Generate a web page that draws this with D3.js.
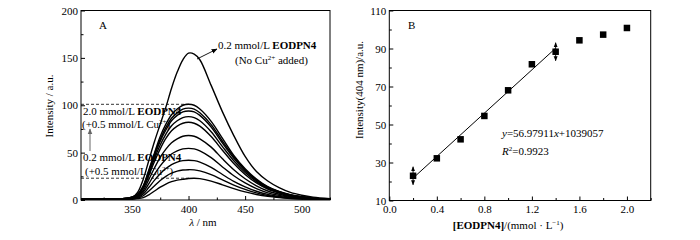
<!DOCTYPE html>
<html>
<head>
<meta charset="utf-8">
<script src="https://cdn.jsdelivr.net/npm/d3@7"></script>
<style>
    body { margin: 0; background: #ffffff; }
    svg text { font-family: 'Liberation Serif', 'Times New Roman', serif; fill: #000; }
</style>
</head>
<body>
<div id="graph"></div>
<script>

// ---- Panel A data: emission spectra ----
var wavelengths = [305, 340, 350, 355, 360, 365, 370, 375, 380, 385, 390, 395, 400, 405,
                   410, 420, 430, 440, 450, 460, 470, 480, 490, 500, 510, 525];

// 0.2 mmol/L EODPN4, no Cu2+
var specNoCu = [0.8, 1, 2.5, 8, 22, 42, 62, 80, 98, 118, 135, 148, 155, 154,
                148, 121, 93, 68, 46, 30, 20, 13, 8, 5, 3, 1.5];

// 0.2 ... 2.0 mmol/L EODPN4 with 0.5 mmol/L Cu2+
var specCu02 = [1, 1, 1, 1.4, 2.5, 5.5, 9.5, 13.5, 16.8, 19.3, 21, 21.8, 22.7, 23,
                22.6, 20, 16, 12, 8.5, 5.8, 3.8, 2.5, 1.6, 1.1, 0.9, 0.7];
var specCu04 = [1, 1, 1.1, 1.9, 4.5, 9.5, 15, 20.5, 25, 28.3, 30.4, 31.6, 32, 31.8,
                30.8, 26.8, 21.3, 15.8, 11.2, 7.5, 4.8, 3.1, 1.9, 1.2, 0.9, 0.7];
var specCu06 = [1, 1.1, 1.3, 2.5, 6.3, 13.4, 21, 27.7, 33.2, 37.4, 40, 41.6, 42, 41.6,
                40, 34.4, 26.9, 19.7, 13.9, 9.2, 5.9, 3.8, 2.3, 1.5, 1, 0.8];
var specCu08 = [1, 1.1, 1.7, 3.3, 8.2, 17.4, 27.3, 36, 43, 48.5, 51.8, 54, 54.5, 54,
                51.8, 44.7, 34.9, 25.6, 18, 12, 7.6, 4.9, 3, 1.9, 1.1, 0.8];
var specCu10 = [1, 1.1, 2, 4, 10, 21.8, 34, 45, 53.7, 60.5, 64.6, 67.3, 68, 67.3,
                64.6, 55.8, 43.5, 32, 22.4, 15, 9.5, 6.1, 3.7, 2.4, 1.4, 1];
var specCu12 = [1, 1.2, 2.5, 4.9, 12.3, 26, 41, 54, 65, 73, 78, 81, 82, 81,
                78, 67, 52.5, 38.5, 27, 18, 11.5, 7.4, 4.5, 2.9, 1.6, 1];
var specCu14 = [1, 1.2, 2.6, 5.3, 13.2, 28, 44, 58, 69.5, 78.3, 83.6, 87, 88, 87,
                83.6, 72, 56.3, 41.4, 29, 19.4, 12.3, 7.9, 4.8, 3.1, 1.8, 1];
var specCu16 = [1, 1.2, 3, 5.6, 14, 30, 47, 62, 74, 83.7, 89.3, 93, 94, 93,
                89.3, 77, 60, 44, 31, 20.7, 13.2, 8.5, 5.2, 3.3, 1.9, 1];
var specCu18 = [1, 1.2, 3, 6, 14.5, 31, 48.5, 64, 76.6, 86.3, 92, 96, 97, 96,
                92, 79.5, 62, 45.6, 32, 21.3, 13.6, 8.7, 5.3, 3.4, 2, 1];
var specCu20 = [1, 1.2, 3, 6, 15, 32, 50, 67, 80, 90, 96, 100, 101, 100,
                96, 83, 65, 47, 33, 22, 14, 9, 5.5, 3.5, 2, 1];

var xTicksA = [350, 400, 450, 500];
var yTicksA = [0, 50, 100, 150, 200];

// ---- Panel B data: intensity at 404 nm vs concentration ----
var concentrations = [0.2, 0.4, 0.6, 0.8, 1.0, 1.2, 1.4, 1.6, 1.8, 2.0];
var intensity404   = [23, 32.2, 42.2, 54.5, 68, 81.7, 88.3, 94.3, 97.3, 100.8];
var fitSlope     = 56.97911;
var fitIntercept = 10.39057;
var fitRange     = [0.2, 1.4];

var xTicksB = [0.0, 0.4, 0.8, 1.2, 1.6, 2.0];
var yTicksB = [10, 30, 50, 70, 90, 110];


function D3App ()
{
    var svg = d3.select ('#graph').append ('svg')
                .attr ('width', 700)
                .attr ('height', 240);

    var defs = svg.append ('defs');

    // arrow heads
    defs.append ('marker')
        .attr ('id', 'arrowBlack')
        .attr ('viewBox', '0 0 10 10')
        .attr ('refX', 9).attr ('refY', 5)
        .attr ('markerWidth', 6).attr ('markerHeight', 6)
        .attr ('markerUnits', 'userSpaceOnUse')
        .attr ('orient', 'auto-start-reverse')
        .append ('path')
        .attr ('d', 'M0,1 L10,5 L0,9 z')
        .attr ('fill', '#000');

    defs.append ('marker')
        .attr ('id', 'arrowGray')
        .attr ('viewBox', '0 0 10 10')
        .attr ('refX', 9).attr ('refY', 5)
        .attr ('markerWidth', 6).attr ('markerHeight', 6)
        .attr ('markerUnits', 'userSpaceOnUse')
        .attr ('orient', 'auto')
        .append ('path')
        .attr ('d', 'M0,1 L10,5 L0,9 z')
        .attr ('fill', '#666');

    defs.append ('marker')
        .attr ('id', 'arrowSmall')
        .attr ('viewBox', '0 0 10 10')
        .attr ('refX', 9).attr ('refY', 5)
        .attr ('markerWidth', 5).attr ('markerHeight', 5)
        .attr ('markerUnits', 'userSpaceOnUse')
        .attr ('orient', 'auto-start-reverse')
        .append ('path')
        .attr ('d', 'M0,1 L10,5 L0,9 z')
        .attr ('fill', '#000');

    //
    // Helper: inward ticks (major + minor) and labels
    //
    var DrawAxes = function (g, xScale, yScale, xTicks, yTicks, xMinor, yMinor, xFmt, yFmt)
    {
        var y0 = yScale.range()[0];

        g.append ('g')
         .attr ('transform', 'translate(0,' + y0 + ')')
         .call (d3.axisBottom (xScale).tickValues (xTicks).tickFormat (xFmt)
                  .tickSizeInner (-4).tickSizeOuter (0).tickPadding (5))
         .call (function (a) { a.select ('.domain').remove (); });

        g.append ('g')
         .attr ('transform', 'translate(0,' + y0 + ')')
         .call (d3.axisBottom (xScale).tickValues (xMinor).tickFormat ('')
                  .tickSizeInner (-2.5).tickSizeOuter (0))
         .call (function (a) { a.select ('.domain').remove (); });

        g.append ('g')
         .attr ('transform', 'translate(' + xScale.range()[0] + ',0)')
         .call (d3.axisLeft (yScale).tickValues (yTicks).tickFormat (yFmt)
                  .tickSizeInner (-4).tickSizeOuter (0).tickPadding (3))
         .call (function (a) { a.select ('.domain').remove (); });

        g.append ('g')
         .attr ('transform', 'translate(' + xScale.range()[0] + ',0)')
         .call (d3.axisLeft (yScale).tickValues (yMinor).tickFormat ('')
                  .tickSizeInner (-2.5).tickSizeOuter (0))
         .call (function (a) { a.select ('.domain').remove (); });

        g.selectAll ('.tick text')
         .attr ('font-size', '11px')
         .attr ('font-family', "'Liberation Serif', serif");
        g.selectAll ('.tick line').attr ('stroke', '#000');

        // frame
        g.append ('rect')
         .attr ('x', xScale.range()[0])
         .attr ('y', yScale.range()[1])
         .attr ('width',  xScale.range()[1] - xScale.range()[0])
         .attr ('height', yScale.range()[0] - yScale.range()[1])
         .attr ('fill', 'none')
         .attr ('stroke', '#000')
         .attr ('stroke-width', 1);
    };

    // ================= Panel A =================
    var xA = d3.scaleLinear ().domain ([305, 525]).range ([81, 330]);
    var yA = d3.scaleLinear ().domain ([0, 200]).range ([200, 10.5]);

    var gA = svg.append ('g');

    defs.append ('clipPath').attr ('id', 'clipA')
        .append ('rect')
        .attr ('x', xA.range()[0]).attr ('y', yA.range()[1])
        .attr ('width', xA.range()[1] - xA.range()[0])
        .attr ('height', yA.range()[0] - yA.range()[1]);

    // annotations that sit behind the curves
    var fs = '11px';

    gA.append ('line')
      .attr ('x1', xA(305)).attr ('x2', xA(402))
      .attr ('y1', yA(101)).attr ('y2', yA(101))
      .attr ('stroke', '#000').attr ('stroke-width', 0.8)
      .attr ('stroke-dasharray', '3,2');

    gA.append ('line')
      .attr ('x1', xA(305)).attr ('x2', xA(402))
      .attr ('y1', yA(23)).attr ('y2', yA(23))
      .attr ('stroke', '#000').attr ('stroke-width', 0.8)
      .attr ('stroke-dasharray', '3,2');

    var AddLabel = function (x, y, parts)
    {
        var t = gA.append ('text')
                  .attr ('x', x).attr ('y', y)
                  .attr ('font-size', fs);
        for (var i = 0; i < parts.length; i++)
        {
            var p = parts[i];
            var ts = t.append ('tspan').text (p.t);
            if (p.b)   ts.attr ('font-weight', 'bold');
            if (p.sup) ts.attr ('font-size', '7px').attr ('dy', -4);
            if (p.down) ts.attr ('dy', 4);
        }
    };

    AddLabel (83, 115, [ { t: '2.0 mmol/L ' }, { t: 'EODPN4', b: true } ]);
    AddLabel (82, 128, [ { t: '(+0.5 mmol/L Cu' }, { t: '2+', sup: true }, { t: ')', down: true } ]);
    AddLabel (83, 161, [ { t: '0.2 mmol/L ' }, { t: 'EODPN4', b: true } ]);
    AddLabel (85, 175, [ { t: '(+0.5 mmol/L Cu' }, { t: '2+', sup: true }, { t: ')', down: true } ]);

    // gray arrow
    gA.append ('line')
      .attr ('x1', 90).attr ('x2', 90)
      .attr ('y1', 151).attr ('y2', 129)
      .attr ('stroke', '#666').attr ('stroke-width', 1)
      .attr ('marker-end', 'url(#arrowGray)');

    // spectra
    var spectra = [ specCu02, specCu04, specCu06, specCu08, specCu10,
                    specCu12, specCu14, specCu16, specCu18, specCu20, specNoCu ];

    var line = d3.line ()
                 .x (function (d, i) { return xA (wavelengths[i]); })
                 .y (function (d) { return yA (d); })
                 .curve (d3.curveCatmullRom.alpha (0.5));

    gA.append ('g')
      .attr ('clip-path', 'url(#clipA)')
      .selectAll ('path')
      .data (spectra)
      .enter ()
      .append ('path')
      .attr ('d', line)
      .attr ('fill', 'none')
      .attr ('stroke', '#000')
      .attr ('stroke-width', 1.4);

    DrawAxes (gA, xA, yA, xTicksA, yTicksA,
              [325, 375, 425, 475, 525], [25, 75, 125, 175],
              function (d) { return d; }, function (d) { return d; });

    gA.append ('text').attr ('x', 99).attr ('y', 29).attr ('font-size', fs).text ('A');

    AddLabel (218, 49, [ { t: '0.2 mmol/L ' }, { t: 'EODPN4', b: true } ]);
    AddLabel (235, 64, [ { t: '(No Cu' }, { t: '2+', sup: true }, { t: ' added)', down: true } ]);

    gA.append ('line')
      .attr ('x1', 197).attr ('y1', 59)
      .attr ('x2', 217).attr ('y2', 49)
      .attr ('stroke', '#000').attr ('stroke-width', 0.9)
      .attr ('marker-end', 'url(#arrowBlack)');

    gA.append ('text')
      .attr ('transform', 'translate(53,106) rotate(-90)')
      .attr ('text-anchor', 'middle')
      .attr ('font-size', fs)
      .text ('Intensity / a.u.');

    var xl = gA.append ('text')
               .attr ('x', 203).attr ('y', 226)
               .attr ('text-anchor', 'middle')
               .attr ('font-size', fs);
    xl.append ('tspan').attr ('font-style', 'italic').text ('λ');
    xl.append ('tspan').text (' / nm');

    // ================= Panel B =================
    var xB = d3.scaleLinear ().domain ([0, 2.2]).range ([389.3, 650.7]);
    var yB = d3.scaleLinear ().domain ([10, 110]).range ([200.5, 10.5]);

    var gB = svg.append ('g');

    DrawAxes (gB, xB, yB, xTicksB, yTicksB,
              [0.2, 0.6, 1.0, 1.4, 1.8, 2.2], [20, 40, 60, 80, 100],
              d3.format ('.1f'), function (d) { return d; });

    // fit line
    gB.append ('line')
      .attr ('x1', xB (fitRange[0])).attr ('y1', yB (fitSlope * fitRange[0] + fitIntercept))
      .attr ('x2', xB (fitRange[1])).attr ('y2', yB (fitSlope * fitRange[1] + fitIntercept))
      .attr ('stroke', '#000').attr ('stroke-width', 1);

    var ms = 6.5;
    gB.selectAll ('rect.pt')
      .data (intensity404)
      .enter ()
      .append ('rect')
      .attr ('class', 'pt')
      .attr ('x', function (d, i) { return xB (concentrations[i]) - ms / 2; })
      .attr ('y', function (d) { return yB (d) - ms / 2; })
      .attr ('width', ms).attr ('height', ms)
      .attr ('fill', '#000');

    // double arrows at the ends of the linear range, centred on the points
    var endIdx = [ 0, 6 ];
    for (var i = 0; i < endIdx.length; i++)
    {
        var cx = xB (concentrations[endIdx[i]]);
        var cy = yB (intensity404[endIdx[i]]);
        gB.append ('line')
          .attr ('x1', cx).attr ('x2', cx)
          .attr ('y1', cy - 9).attr ('y2', cy + 9)
          .attr ('stroke', '#000').attr ('stroke-width', 0.9)
          .attr ('marker-start', 'url(#arrowSmall)')
          .attr ('marker-end', 'url(#arrowSmall)');
    }

    gB.append ('text').attr ('x', 408).attr ('y', 29).attr ('font-size', fs).text ('B');

    var eq = gB.append ('text').attr ('x', 502).attr ('y', 137).attr ('font-size', fs);
    eq.append ('tspan').attr ('font-style', 'italic').text ('y');
    eq.append ('tspan').text ('=56.97911');
    eq.append ('tspan').attr ('font-style', 'italic').text ('x');
    eq.append ('tspan').text ('+1039057');

    var r2 = gB.append ('text').attr ('x', 502).attr ('y', 155).attr ('font-size', fs);
    r2.append ('tspan').attr ('font-style', 'italic').text ('R');
    r2.append ('tspan').attr ('font-size', '7px').attr ('dy', -4).text ('2');
    r2.append ('tspan').attr ('dy', 4).text ('=0.9923');

    gB.append ('text')
      .attr ('transform', 'translate(363,90) rotate(-90)')
      .attr ('text-anchor', 'middle')
      .attr ('font-size', fs)
      .text ('Intensity(404 nm)/a.u.');

    var xlB = gB.append ('text')
                .attr ('x', xB (1.0)).attr ('y', 229)
                .attr ('text-anchor', 'middle')
                .attr ('font-size', fs);
    xlB.append ('tspan').attr ('font-weight', 'bold').text ('[EODPN4]');
    xlB.append ('tspan').text ('/(mmol · L');
    xlB.append ('tspan').attr ('font-size', '7px').attr ('dy', -4).text ('−1');
    xlB.append ('tspan').attr ('dy', 4).text (')');

} // D3App

D3App ();
</script>
</body>
</html>
